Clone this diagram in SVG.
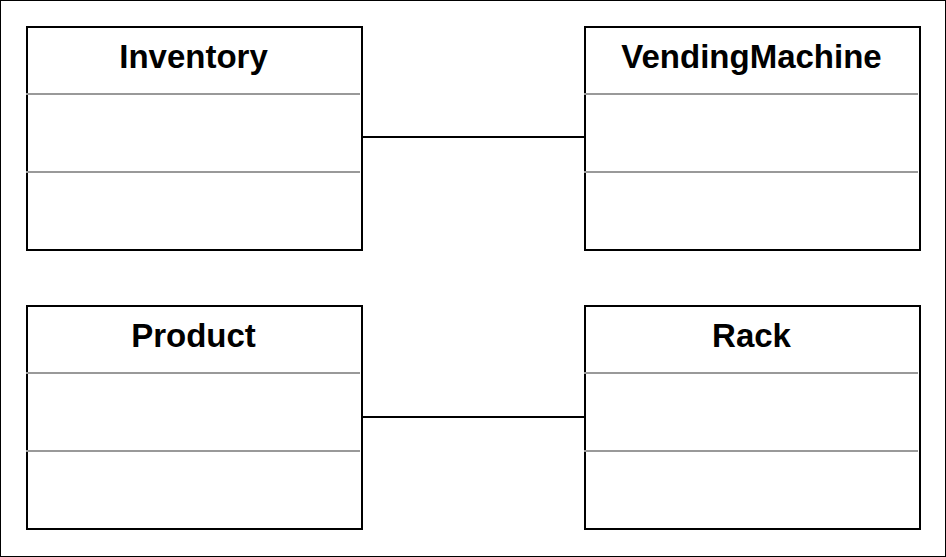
<svg xmlns="http://www.w3.org/2000/svg" width="946" height="557" viewBox="0 0 946 557">
<style>
.box{fill:#fff;stroke:#000;stroke-width:2}
.div{stroke:#999;stroke-width:2}
.title{font-family:"Liberation Sans",Arial,sans-serif;font-weight:bold;font-size:33px;text-anchor:middle;fill:#000}
.conn{stroke:#000;stroke-width:2;fill:none}
</style>
<rect x="0.5" y="0.5" width="945" height="556" fill="#fff" stroke="#000" stroke-width="1"/>
<g id="connectors">
<line class="conn" x1="362" y1="137" x2="585" y2="137"/>
<line class="conn" x1="362" y1="417" x2="585" y2="417"/>
</g>
<g id="inventory">
<rect class="box" x="27" y="27" width="335" height="223"/>
<line class="div" x1="26" y1="94" x2="360" y2="94"/>
<line class="div" x1="26" y1="172" x2="360" y2="172"/>
<text class="title" x="193.5" y="68">Inventory</text>
</g>
<g id="vendingmachine">
<rect class="box" x="585" y="27" width="335" height="223"/>
<line class="div" x1="584" y1="94" x2="918" y2="94"/>
<line class="div" x1="584" y1="172" x2="918" y2="172"/>
<text class="title" x="751.5" y="68">VendingMachine</text>
</g>
<g id="product">
<rect class="box" x="27" y="306" width="335" height="223"/>
<line class="div" x1="26" y1="373" x2="360" y2="373"/>
<line class="div" x1="26" y1="451" x2="360" y2="451"/>
<text class="title" x="193.5" y="347">Product</text>
</g>
<g id="rack">
<rect class="box" x="585" y="306" width="335" height="223"/>
<line class="div" x1="584" y1="373" x2="918" y2="373"/>
<line class="div" x1="584" y1="451" x2="918" y2="451"/>
<text class="title" x="751.5" y="347">Rack</text>
</g>
</svg>
